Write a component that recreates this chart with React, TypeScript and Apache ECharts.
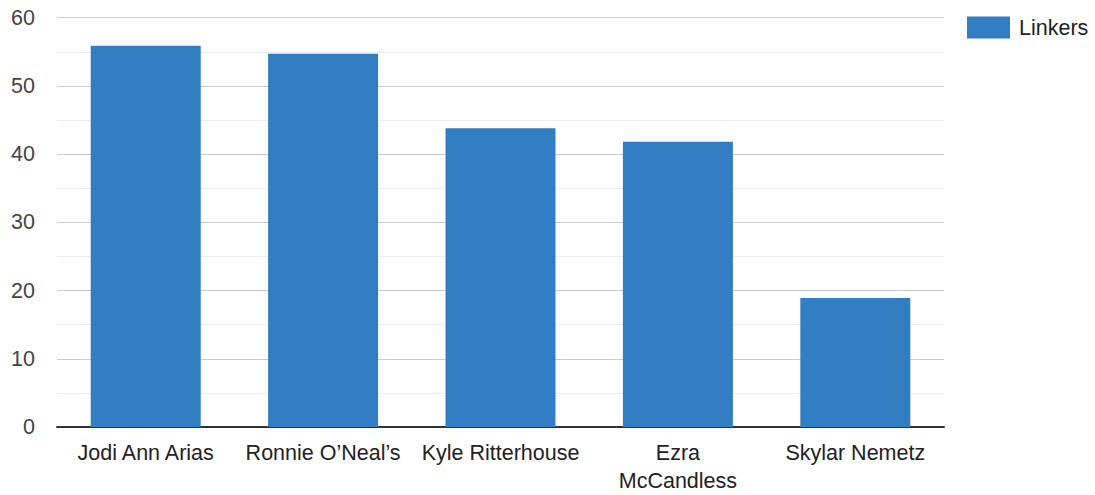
import React, { useEffect, useRef } from "react";
import * as echarts from "echarts";

const categories = [
  "Jodi Ann Arias",
  "Ronnie O\u2019Neal\u2019s",
  "Kyle Ritterhouse",
  "Ezra\nMcCandless",
  "Skylar Nemetz",
];
const linkers = [55.9, 54.7, 43.8, 41.8, 18.9];
const seriesName = "Linkers";

const FONT = "'Liberation Sans', Arial, Helvetica, sans-serif";
const FONT_SIZE = 21.5;

export default function App() {
  const ref = useRef<HTMLDivElement>(null);

  useEffect(() => {
    document.body.style.margin = "0";
    if (!ref.current) return;
    const chart = echarts.init(ref.current, undefined, { renderer: "svg" });
    chart.setOption({
      animation: false,
      textStyle: { fontFamily: FONT },
      grid: { left: 57, right: 151, top: 17.7, bottom: 62.8, containLabel: false },
      legend: {
        left: 967,
        top: 16.5,
        padding: 0,
        itemWidth: 43,
        itemHeight: 22,
        icon: "rect",
        textStyle: {
          fontSize: FONT_SIZE,
          color: "#222",
          fontFamily: FONT,
          padding: [0, 0, 0, 4],
        },
        data: [seriesName],
      },
      xAxis: {
        type: "category",
        data: categories,
        axisLine: { show: true, lineStyle: { color: "#333", width: 2 } },
        axisTick: { show: false },
        axisLabel: {
          color: "#222",
          fontSize: FONT_SIZE,
          fontFamily: FONT,
          margin: 12,
          lineHeight: 28,
          interval: 0,
        },
      },
      yAxis: {
        type: "value",
        min: 0,
        max: 60,
        interval: 10,
        axisLine: { show: false },
        axisTick: { show: false },
        axisLabel: { color: "#444", fontSize: FONT_SIZE, fontFamily: FONT, margin: 22 },
        splitLine: { show: true, lineStyle: { color: "#cccccc", width: 1 } },
        minorTick: { show: false, splitNumber: 2 },
        minorSplitLine: { show: true, lineStyle: { color: "#ececec", width: 1 } },
      },
      series: [
        {
          name: seriesName,
          type: "bar",
          data: linkers,
          barWidth: "62%",
          itemStyle: { color: "#317ec2" },
        },
      ],
    });
    return () => chart.dispose();
  }, []);

  return <div ref={ref} style={{ width: 1095, height: 495 }} />;
}
